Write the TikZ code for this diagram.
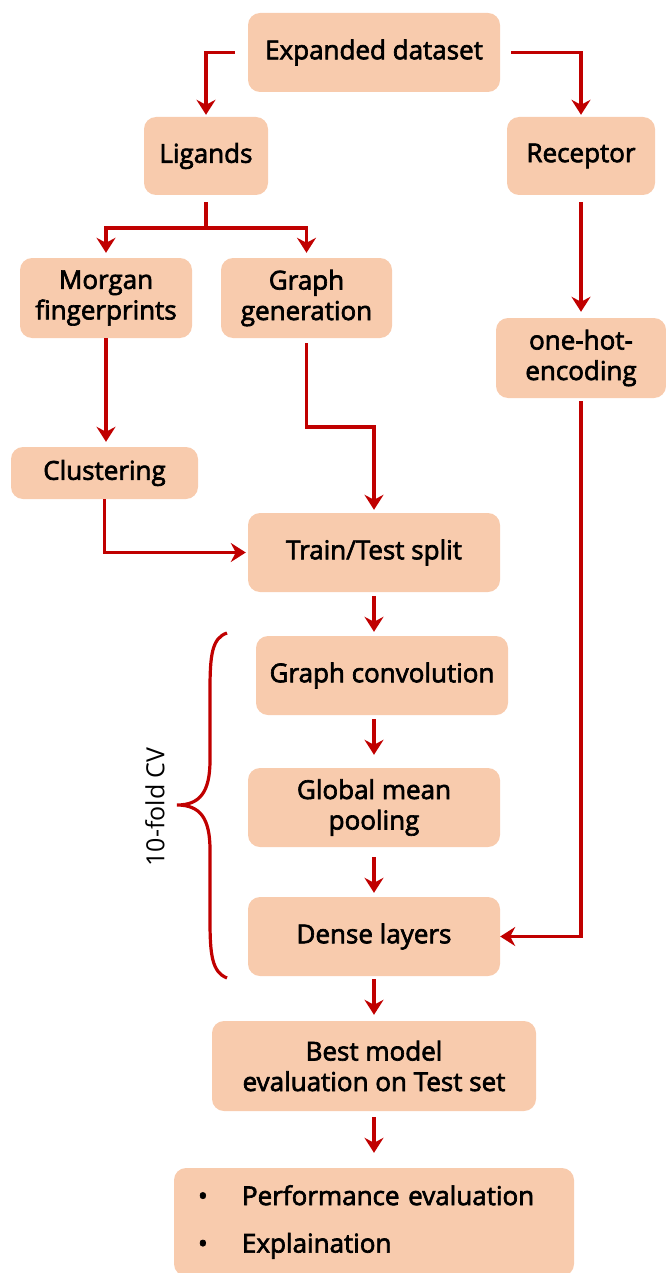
\documentclass[tikz,border=0pt]{standalone}
\usepackage{fontspec}
\setmainfont{Open Sans}
\newfontfamily\boxfont{Open Sans}[FakeBold=2.5]
\usetikzlibrary{arrows.meta}
\definecolor{boxpeach}{RGB}{248,203,173}
\definecolor{flowred}{RGB}{192,0,0}
\tikzset{
  box/.style={fill=boxpeach, rounded corners=12pt, align=center, inner sep=0pt,
    font=\boxfont\fontsize{26}{30.5}\selectfont},
  link/.style={draw=flowred, line width=3.2pt},
  flow/.style={link, -{Stealth[length=15pt, width=19pt, inset=5pt]}},
}
\begin{document}
\begin{tikzpicture}[x=1pt, y=-1pt]
  \useasboundingbox (0, 0) rectangle (665, 1273);
  % Draw the data preparation boxes
  \node[box, minimum width=252, minimum height=79] (exp) at (374, 52.5) {Expanded dataset};
  \node[box, minimum width=124, minimum height=78] (lig) at (206, 156) {Ligands};
  \node[box, minimum width=148, minimum height=78] (rec) at (581, 156) {Receptor};
  \node[box, minimum width=172, minimum height=80] (mor) at (106, 298) {Morgan\\fingerprints};
  \node[box, minimum width=171, minimum height=80] (gra) at (306.5, 298) {Graph\\generation};
  \node[box, minimum width=170, minimum height=80] (one) at (581, 358) {one-hot-\\encoding};
  \node[box, minimum width=187, minimum height=52] (clu) at (104.5, 473) {Clustering};
  \node[box, minimum width=252, minimum height=79] (tts) at (374, 552.5) {Train/Test split};
  % Draw the model boxes
  \node[box, minimum width=252, minimum height=79] (gc) at (382, 675.5) {Graph convolution};
  \node[box, minimum width=252, minimum height=79] (gmp) at (374, 807.5) {Global mean\\pooling};
  \node[box, minimum width=252, minimum height=79] (den) at (374, 936.5) {Dense layers};
  \node[box, minimum width=324, minimum height=90] (best) at (374, 1066) {Best model\\evaluation on Test set};
  \node[box, minimum width=400, minimum height=108, text width=352pt, align=left] (res) at (374, 1222)
    {\makebox[44pt][l]{\textbullet}Performance evaluation\\[17pt]\makebox[44pt][l]{\textbullet}Explaination};
  % Draw the arrows
  \draw[flow, shorten <=13pt, shorten >=2pt] (exp) -| (lig);
  \draw[flow, shorten <=11pt, shorten >=2pt] (exp) -| (rec);
  \coordinate (split) at (206, 228);
  \draw[link, shorten <=7pt] (lig) -- (split);
  \draw[flow, shorten >=5pt] (split) -| (mor);
  \draw[flow, shorten >=5pt] (split) -| (gra);
  \draw[flow, shorten <=7pt, shorten >=6pt] (rec) -- (one);
  \draw[flow, shorten >=5pt] (mor) -- (mor |- clu.north);
  \coordinate (gbend) at (374, 427);
  \draw[flow, shorten <=5pt, shorten >=3pt] (gra) |- (gbend) -- (tts);
  \draw[flow, shorten >=2pt] (clu) |- (tts);
  \draw[flow, shorten <=4pt, shorten >=4pt] (tts) -- (tts |- gc.north);
  \draw[flow, shorten <=4pt, shorten >=13pt] (gmp |- gc.south) -- (gmp);
  \draw[flow, shorten <=10pt, shorten >=4pt] (gmp) -- (den);
  \draw[flow, shorten <=3pt, shorten >=6pt] (den) -- (best);
  \draw[flow, shorten <=6pt, shorten >=15pt] (best) -- (res);
  \draw[flow, shorten <=3pt] (one) |- (den);
  % Draw the cross validation brace
  \draw[link] (227, 633) .. controls (212, 638) and (210, 655) .. (210, 690)
    -- (210, 760) .. controls (210, 792) and (200, 805) .. (177, 805)
    .. controls (200, 805) and (210, 818) .. (210, 850)
    -- (210, 920) .. controls (210, 955) and (212, 972) .. (227, 978);
  \node[rotate=90, font=\fontsize{25}{30}\selectfont] (cv) at (155, 807) {10-fold CV};
\end{tikzpicture}
\end{document}
